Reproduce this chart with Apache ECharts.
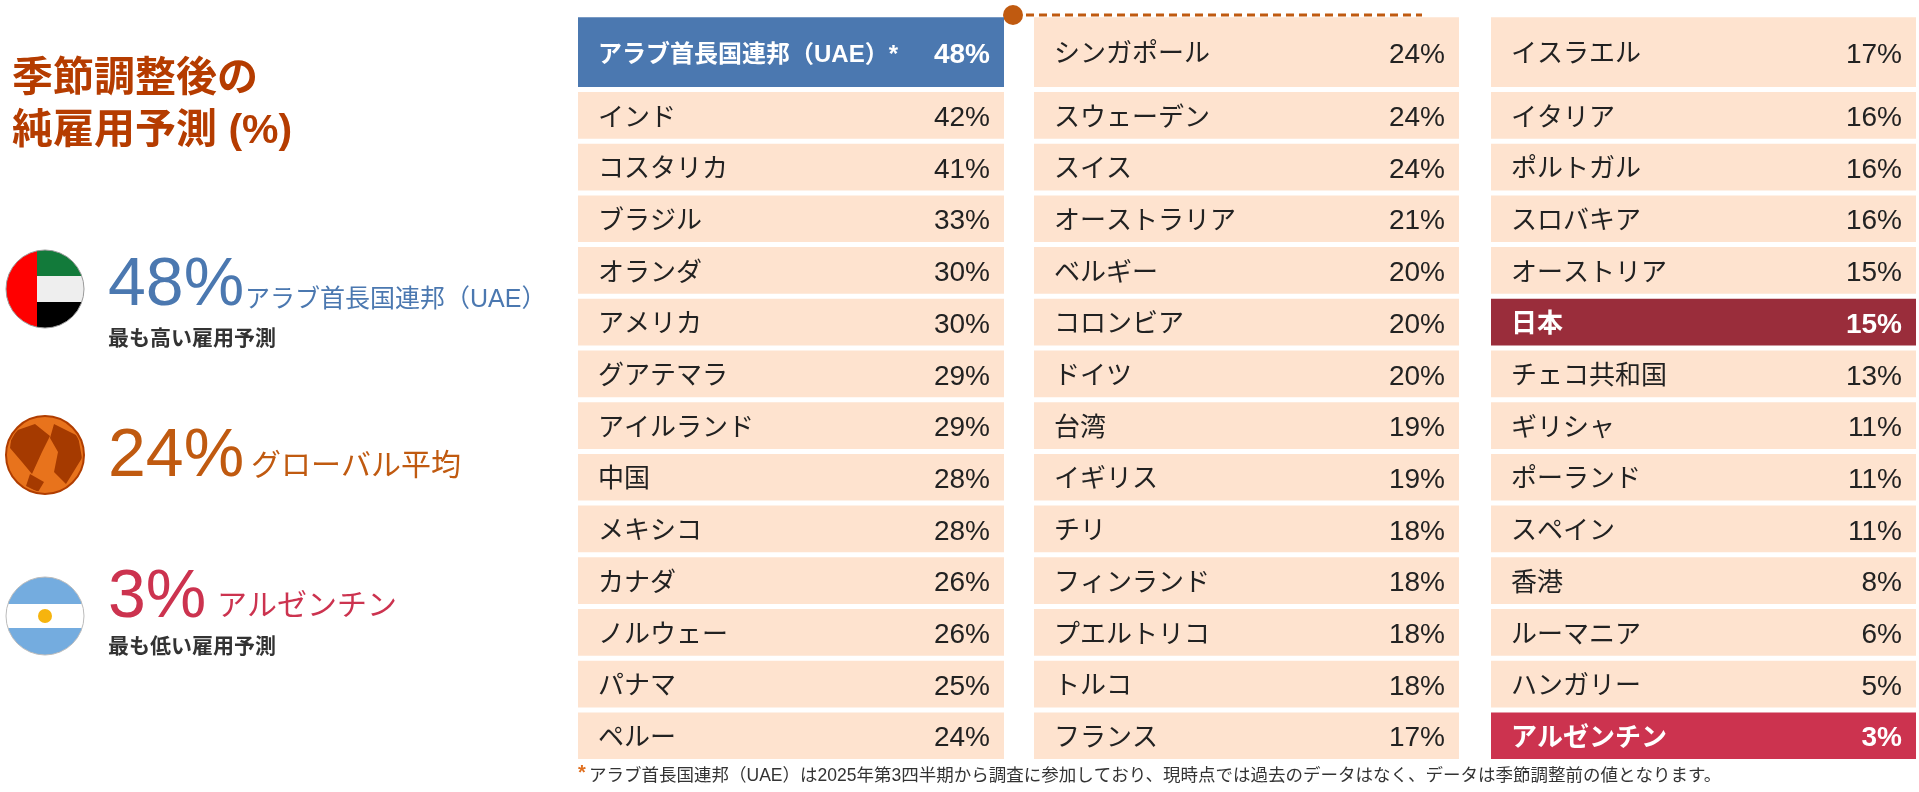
<!DOCTYPE html>
<html><head><meta charset="utf-8">
<script src="https://cdn.jsdelivr.net/npm/echarts@6/dist/echarts.min.js"></script>
<style>html,body{margin:0;padding:0;background:#fff}#c{width:1919px;height:792px}</style>
</head><body><div id="c"></div>
<script>
const col1Names=['アラブ首長国連邦（UAE）*','インド','コスタリカ','ブラジル','オランダ','アメリカ','グアテマラ','アイルランド','中国','メキシコ','カナダ','ノルウェー','パナマ','ペルー'];
const col1Values=[48,42,41,33,30,30,29,29,28,28,26,26,25,24];
const col2Names=['シンガポール','スウェーデン','スイス','オーストラリア','ベルギー','コロンビア','ドイツ','台湾','イギリス','チリ','フィンランド','プエルトリコ','トルコ','フランス'];
const col2Values=[24,24,24,21,20,20,20,19,19,18,18,18,18,17];
const col3Names=['イスラエル','イタリア','ポルトガル','スロバキア','オーストリア','日本','チェコ共和国','ギリシャ','ポーランド','スペイン','香港','ルーマニア','ハンガリー','アルゼンチン'];
const col3Values=[17,16,16,16,15,15,13,11,11,11,8,6,5,3];
const highlights={'アラブ首長国連邦（UAE）*':'#4b78b0','日本':'#9a2d3b','アルゼンチン':'#cc334f'};
const FONT='"Liberation Sans","Noto Sans CJK JP",sans-serif';
const cols=[[col1Names,col1Values],[col2Names,col2Values],[col3Names,col3Values]];
const lefts=[578,1034,1491], widths=[426,425,425];
const grids=[],xAxes=[],yAxes=[],series=[];
cols.forEach((c,k)=>{
  grids.push({left:lefts[k],width:widths[k],top:37.8,height:723.8});
  xAxes.push({gridIndex:k,type:'value',min:0,max:1,show:false});
  yAxes.push({gridIndex:k,type:'category',inverse:true,data:c[0],show:false});
  const names=c[0],vals=c[1];
  series.push({type:'custom',xAxisIndex:k,yAxisIndex:k,data:vals.map((v,i)=>[i,v]),
    renderItem:(params,api)=>{
      const i=params.dataIndex;
      const p=api.coord([0,i]);
      const h=api.size([0,1])[1];
      const w=params.coordSys.width;
      let top=p[1]-h/2+2.5, hh=h-5;
      if(i===0){top-=23;hh+=23;}
      const name=names[i], hl=highlights[name];
      const cy=top+hh/2+3;
      const tc=hl?'#fff':'#222', fw=hl?'bold':'normal';
      return {type:'group',children:[
        {type:'rect',shape:{x:p[0],y:top,width:w,height:hh},style:{fill:hl||'#fee3cf'}},
        {type:'text',style:{x:p[0]+20,y:cy,text:name,fill:tc,font:fw+' '+(name.length>10?24:26)+'px '+FONT,textVerticalAlign:'middle'}},
        {type:'text',style:{x:p[0]+w-14,y:cy,text:vals[i]+'%',fill:tc,font:fw+' 28px '+FONT,textAlign:'right',textVerticalAlign:'middle'}}
      ]};
    }});
});
const g=[];
const T=(x,y,text,size,color,weight)=>g.push({type:'text',style:{x,y,text,fill:color,font:(weight||'normal')+' '+size+'px '+FONT,textVerticalAlign:'middle'}});
T(12,80,'季節調整後の',41,'#b53c00','bold');
T(12,132,'純雇用予測 (%)',41,'#b53c00','bold');
const fx=45,r=39;
const fy1=289;
g.push({type:'group',children:[
 {type:'rect',shape:{x:fx-r,y:fy1-r,width:2*r,height:2*r},style:{fill:'#fff'}},
 {type:'rect',shape:{x:fx-8,y:fy1-r,width:r+8,height:26},style:{fill:'#127a3a'}},
 {type:'rect',shape:{x:fx-8,y:fy1-13,width:r+8,height:26},style:{fill:'#eeeeee'}},
 {type:'rect',shape:{x:fx-8,y:fy1+13,width:r+8,height:26},style:{fill:'#000'}},
 {type:'rect',shape:{x:fx-r,y:fy1-r,width:r-8,height:2*r},style:{fill:'#f00'}}
],clipPath:{type:'circle',shape:{cx:fx,cy:fy1,r:r}}});
g.push({type:'circle',shape:{cx:fx,cy:fy1,r:r},style:{fill:'none',stroke:'#999',lineWidth:1}});
T(108,286,'48%',68,'#4b78b0');
T(245,300,'アラブ首長国連邦（UAE）',25,'#4b78b0');
T(108,339,'最も高い雇用予測',21,'#333','bold');
const gy=455;
g.push({type:'circle',shape:{cx:fx,cy:gy,r:r},style:{fill:'#e8731c',stroke:'#b03d00',lineWidth:2}});
g.push({type:'group',children:[
 {type:'polygon',shape:{points:[[12,432],[35,424],[50,436],[42,452],[32,474],[22,462],[10,448]]},style:{fill:'#a53a00'}},
 {type:'polygon',shape:{points:[[54,424],[78,436],[82,458],[66,484],[54,472],[58,452],[50,438]]},style:{fill:'#a53a00'}},
 {type:'polygon',shape:{points:[[30,474],[44,482],[38,492],[26,486]]},style:{fill:'#a53a00'}}
],clipPath:{type:'circle',shape:{cx:fx,cy:gy,r:r-2}}});
T(108,457,'24%',68,'#c05a10');
T(251,467,'グローバル平均',30,'#c05a10');
const ay=616;
g.push({type:'group',children:[
 {type:'rect',shape:{x:fx-r,y:ay-r,width:2*r,height:27},style:{fill:'#74acdf'}},
 {type:'rect',shape:{x:fx-r,y:ay-12,width:2*r,height:24},style:{fill:'#fff'}},
 {type:'rect',shape:{x:fx-r,y:ay+12,width:2*r,height:27},style:{fill:'#74acdf'}},
 {type:'circle',shape:{cx:fx,cy:ay,r:7},style:{fill:'#f6b40e'}}
],clipPath:{type:'circle',shape:{cx:fx,cy:ay,r:r}}});
g.push({type:'circle',shape:{cx:fx,cy:ay,r:r},style:{fill:'none',stroke:'#bbb',lineWidth:1}});
T(108,598,'3%',68,'#cc334f');
T(217,607,'アルゼンチン',30,'#cc334f');
T(108,647,'最も低い雇用予測',21,'#333','bold');
g.push({type:'line',shape:{x1:1013,y1:15,x2:1422,y2:15},style:{stroke:'#c05a10',lineWidth:3,lineDash:[8,5]}});
g.push({type:'circle',shape:{cx:1013,cy:15,r:10},style:{fill:'#c05a10'}});
T(578,773,'*',20,'#e07020','bold');
T(589,776,'アラブ首長国連邦（UAE）は2025年第3四半期から調査に参加しており、現時点では過去のデータはなく、データは季節調整前の値となります。',17.5,'#333');
const chart=echarts.init(document.getElementById('c'));
chart.setOption({animation:false,grid:grids,xAxis:xAxes,yAxis:yAxes,series,graphic:g});
</script></body></html>
